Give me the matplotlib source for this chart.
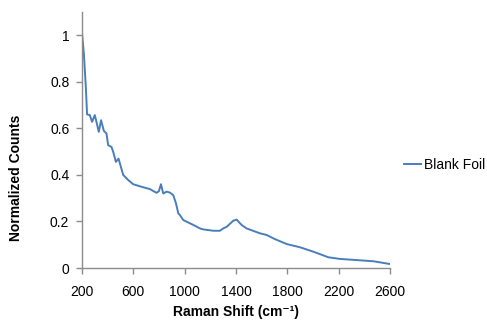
import matplotlib
matplotlib.use("Agg")
import matplotlib.pyplot as plt

plt.rcParams['font.family'] = ['Liberation Sans', 'DejaVu Sans']

# Raman spectrum of blank foil (normalized counts)
raman_shift = [200, 216, 231, 241, 262, 280, 301, 314, 332, 350, 371, 392, 405, 431,
               444, 465, 486, 504, 522, 561, 600, 665, 730, 782, 800, 816, 834, 860,
               886, 912, 933, 951, 964, 990, 1016, 1068, 1120, 1145, 1223, 1276, 1300,
               1328, 1353, 1379, 1405, 1444, 1483, 1587, 1639, 1700, 1795, 1899, 2003,
               2120, 2210, 2340, 2470, 2600]
counts = [1.02, 0.92, 0.78, 0.66, 0.657, 0.628, 0.657, 0.628, 0.585, 0.635, 0.59, 0.578,
          0.528, 0.52, 0.50, 0.456, 0.47, 0.435, 0.40, 0.378, 0.36, 0.349, 0.339, 0.323,
          0.33, 0.36, 0.32, 0.328, 0.324, 0.313, 0.278, 0.235, 0.227, 0.206, 0.199, 0.185,
          0.17, 0.166, 0.16, 0.16, 0.17, 0.177, 0.19, 0.203, 0.208, 0.185, 0.17, 0.149,
          0.142, 0.125, 0.103, 0.089, 0.07, 0.046, 0.039, 0.034, 0.029, 0.017]

x_ticks = [200, 600, 1000, 1400, 1800, 2200, 2600]
y_ticks = [0, 0.2, 0.4, 0.6, 0.8, 1]
y_tick_labels = ["0", "0.2", "0.4", "0.6", "0.8", "1"]

fig = plt.figure(figsize=(4.87, 3.2), dpi=100)
ax = fig.add_axes([0.168, 0.1625, 0.633, 0.8])

line, = ax.plot(raman_shift, counts, color='#4A7EBB', linewidth=1.4, label='Blank Foil')

ax.set_xlim(200, 2600)
ax.set_ylim(0, 1.1)
ax.set_xticks(x_ticks)
ax.set_yticks(y_ticks)
ax.set_yticklabels(y_tick_labels)

for side in ('top', 'right'):
    ax.spines[side].set_visible(False)
for side in ('left', 'bottom'):
    ax.spines[side].set_color('#8C8C8C')
    ax.spines[side].set_linewidth(1.0)
ax.tick_params(axis='both', direction='out', length=4, width=1.0, color='#8C8C8C',
               labelsize=10, labelcolor='#000000')
ax.tick_params(axis='x', pad=8)
ax.tick_params(axis='y', pad=5)

ax.set_xlabel('Raman Shift (cm\u207b\u00b9)', fontsize=10, fontweight='bold')
ax.set_ylabel('Normalized Counts', fontsize=10, fontweight='bold')
ax.xaxis.label.set_va('center')
ax.yaxis.label.set_va('center')
ax.xaxis.set_label_coords(0.5, -0.172)
ax.yaxis.set_label_coords(-0.213, 0.351)

fig.legend(handles=[line], loc='center left', bbox_to_anchor=(0.830, 0.484),
           frameon=False, fontsize=10, handlelength=1.2, handletextpad=0.25,
           borderpad=0, borderaxespad=0)

fig.savefig('out.png', dpi=100)
